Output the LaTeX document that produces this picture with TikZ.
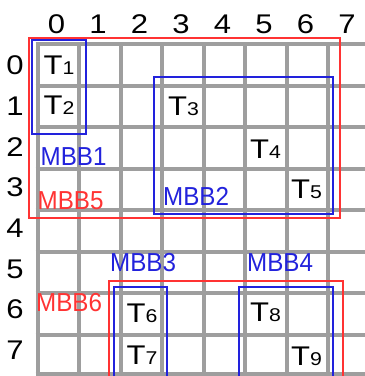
\documentclass[tikz,border=0pt]{standalone}
\usepackage{fontspec}
\setmainfont{Liberation Sans}
\newfontfamily\widefont{Liberation Sans}[FakeStretch=1.15]
\newfontfamily\narrowfont{Liberation Sans}[FakeStretch=0.93]
\definecolor{mbbblue}{RGB}{34,34,220}
\definecolor{mbbred}{RGB}{255,51,51}
\definecolor{gridgray}{RGB}{158,158,158}
\newcommand\tsub[1]{T{\fontsize{18.5}{20}\selectfont #1}}
\begin{document}
\begin{tikzpicture}[x=1pt,y=-1pt,
  lbl/.style={font=\widefont\fontsize{27}{30}\selectfont, inner sep=0pt, text=black},
  mlbl/.style={font=\narrowfont\fontsize{26}{30}\selectfont, inner sep=0pt, anchor=base west},
  bluebox/.style={draw=mbbblue, line width=2pt},
  redbox/.style={draw=mbbred, line width=2pt},
  bluetxt/.style={mlbl, text=mbbblue},
  redtxt/.style={mlbl, text=mbbred},
  gridline/.style={draw=gridgray, line width=4pt}]
\clip (0,0) rectangle (365,376);
\fill[white] (0,0) rectangle (365,376);
% grid
\foreach \i in {0,...,7} \draw[gridline] (37.5+41.5*\i, 42) -- (37.5+41.5*\i, 380);
\foreach \j in {0,...,7} \draw[gridline] (35.5, 44+41.5*\j) -- (370, 44+41.5*\j);
\draw[gridline] (35.5,374) -- (370,374);
% axis labels
\foreach \i in {0,...,7} \node[lbl] (c\i) at (56.5+41.5*\i, 24.5) {\i};
\foreach \j in {0,...,7} \node[lbl] (r\j) at (15, 65.5+40.7*\j) {\j};
% bounding boxes
\draw[redbox] (29,38) rectangle (340,218);
\draw[bluebox] (32,40) rectangle (86,134);
\draw[bluebox] (154,77) rectangle (333.3,214);
\draw[redbox] (109,281) rectangle (342.7,385);
\draw[bluebox] (114,287) rectangle (167,385);
\draw[bluebox] (239,287) rectangle (333.3,385);
% tasks
\node[lbl] (t1) at (59,65) {\tsub{1}};
\node[lbl] (t2) at (59,105.5) {\tsub{2}};
\node[lbl] (t3) at (183.5,106.25) {\tsub{3}};
\node[lbl] (t4) at (265.5,149) {\tsub{4}};
\node[lbl] (t5) at (306.5,189) {\tsub{5}};
\node[lbl] (t6) at (142,313.5) {\tsub{6}};
\node[lbl] (t7) at (142,355) {\tsub{7}};
\node[lbl] (t8) at (265.5,312.5) {\tsub{8}};
\node[lbl] (t9) at (306.5,356) {\tsub{9}};
% MBB labels
\node[bluetxt] (m1) at (40.5,165) {MBB1};
\node[redtxt] (m5) at (37.5,209.5) {MBB5};
\node[bluetxt] (m2) at (163,205) {MBB2};
\node[bluetxt] (m3) at (110,271) {MBB3};
\node[bluetxt] (m4) at (247,271) {MBB4};
\node[redtxt] (m6) at (36,311.7) {MBB6};
\end{tikzpicture}
\end{document}
